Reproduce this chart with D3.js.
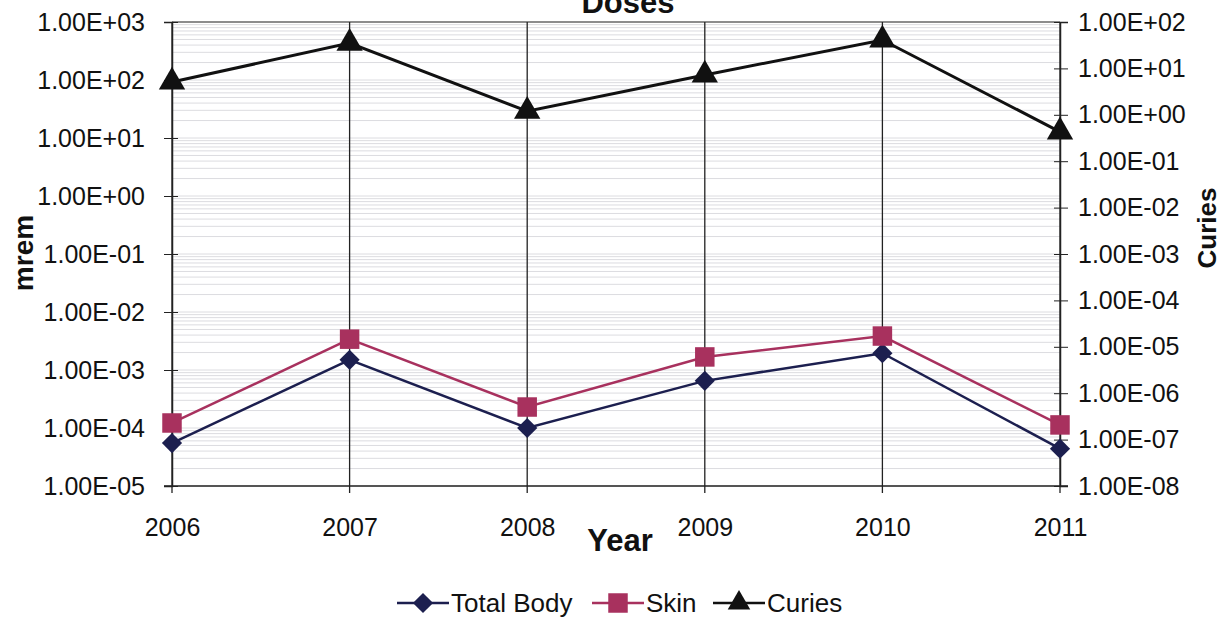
<!DOCTYPE html>
<head>
	<meta charset="utf-8">
	<title>Doses</title>
	<script src="https://cdn.jsdelivr.net/npm/d3@7"></script>
	<style>
		body { margin: 0; background: white; }
		text { font-family: 'Liberation Sans', Arial, sans-serif; fill: #111; }
		.ttl { font-weight: bold; }
	</style>
</head>
<body>
	<script>
		var years = [2006, 2007, 2008, 2009, 2010, 2011];
		var totalBody = [5.5e-5, 1.5e-3, 1.0e-4, 6.5e-4, 1.95e-3, 4.4e-5];
		var skin = [1.22e-4, 3.4e-3, 2.3e-4, 1.68e-3, 3.85e-3, 1.13e-4];
		var curies = [5.1, 35, 1.2, 7.2, 41, 0.43];
		var leftTicks = [1e-5, 1e-4, 1e-3, 1e-2, 1e-1, 1e0, 1e1, 1e2, 1e3];
		var rightTicks = [1e-8, 1e-7, 1e-6, 1e-5, 1e-4, 1e-3, 1e-2, 1e-1, 1e0, 1e1, 1e2];

		var width = 1225, height = 619;
		var L = 172, R = 1060, T = 22, B = 486;

		var svg = d3.select("body").append("svg")
			.attr("width", width)
			.attr("height", height);

		var x = d3.scalePoint().domain(years).range([L, R]);
		var yL = d3.scaleLog().domain([1e-5, 1e3]).range([B, T]);
		var yR = d3.scaleLog().domain([1e-8, 1e2]).range([B, T]);

		function fmt(v) {
			var e = Math.round(Math.log10(v));
			return "1.00E" + (e < 0 ? "-" : "+") + d3.format("02d")(Math.abs(e));
		}

		// faint scan-like horizontal lines
		var minor = [];
		for (var e = -5; e < 3; e++) for (var m = 1; m < 10; m++) minor.push(m * Math.pow(10, e));
		svg.append("g").selectAll("line")
			.data(minor)
			.enter().append("line")
				.attr("x1", L).attr("x2", R)
				.attr("y1", function(d) { return yL(d); })
				.attr("y2", function(d) { return yL(d); })
				.attr("stroke", "#dcdce0")
				.attr("stroke-width", 1);

		// top border
		svg.append("line").attr("x1", L).attr("x2", R).attr("y1", T).attr("y2", T)
			.attr("stroke", "#666").attr("stroke-width", 1.5);

		// vertical year gridlines
		svg.append("g").selectAll("line")
			.data(years)
			.enter().append("line")
				.attr("x1", function(d) { return x(d); })
				.attr("x2", function(d) { return x(d); })
				.attr("y1", T).attr("y2", B + 7)
				.attr("stroke", "#222").attr("stroke-width", 1.3);

		// bottom axis line
		svg.append("line").attr("x1", L - 8).attr("x2", R + 8).attr("y1", B).attr("y2", B)
			.attr("stroke", "#222").attr("stroke-width", 1.5);

		var gl = svg.append("g").attr("transform", "translate(" + L + ",0)")
			.call(d3.axisLeft(yL).tickValues(leftTicks).tickFormat(fmt).tickSize(8).tickPadding(19));
		gl.selectAll(".tick line").attr("x2", -8).attr("x1", 6).attr("stroke", "#222");
		gl.select(".domain").attr("stroke", "#222").attr("stroke-width", 1.5);
		gl.selectAll(".tick text").attr("font-size", 25).attr("font-family", "Liberation Sans, Arial, sans-serif");

		var gr = svg.append("g").attr("transform", "translate(" + R + ",0)")
			.call(d3.axisRight(yR).tickValues(rightTicks).tickFormat(fmt).tickSize(8).tickPadding(10));
		gr.selectAll(".tick line").attr("x1", -6).attr("x2", 8).attr("stroke", "#222");
		gr.select(".domain").attr("stroke", "#222").attr("stroke-width", 1.5);
		gr.selectAll(".tick text").attr("font-size", 25).attr("font-family", "Liberation Sans, Arial, sans-serif");

		var gx = svg.append("g").attr("transform", "translate(0," + B + ")")
			.call(d3.axisBottom(x).tickSize(0).tickPadding(32));
		gx.select(".domain").remove();
		gx.selectAll(".tick text").attr("font-size", 25).attr("font-family", "Liberation Sans, Arial, sans-serif");

		// series
		var lineL = d3.line().x(function(d, i) { return x(years[i]); }).y(function(d) { return yL(d); });
		var lineR = d3.line().x(function(d, i) { return x(years[i]); }).y(function(d) { return yR(d); });

		svg.append("path").attr("d", lineL(totalBody)).attr("fill", "none").attr("stroke", "#1c1f4f").attr("stroke-width", 2.5);
		svg.append("path").attr("d", lineL(skin)).attr("fill", "none").attr("stroke", "#a8315e").attr("stroke-width", 2.5);
		svg.append("path").attr("d", lineR(curies)).attr("fill", "none").attr("stroke", "#111").attr("stroke-width", 3);

		var diamond = d3.symbol().type(d3.symbolDiamond2).size(260);
		var square = d3.symbol().type(d3.symbolSquare).size(380);
		var tri = d3.symbol().type(d3.symbolTriangle).size(300);

		svg.append("g").selectAll("path").data(totalBody).enter().append("path")
			.attr("d", diamond)
			.attr("transform", function(d, i) { return "translate(" + x(years[i]) + "," + yL(d) + ")"; })
			.attr("fill", "#1c1f4f");
		svg.append("g").selectAll("path").data(skin).enter().append("path")
			.attr("d", square)
			.attr("transform", function(d, i) { return "translate(" + x(years[i]) + "," + yL(d) + ")"; })
			.attr("fill", "#a8315e");
		svg.append("g").selectAll("path").data(curies).enter().append("path")
			.attr("d", tri)
			.attr("transform", function(d, i) { return "translate(" + x(years[i]) + "," + yR(d) + ")"; })
			.attr("fill", "#111");

		// titles
		svg.append("text").attr("class", "ttl").attr("font-size", 31).attr("x", 628).attr("y", 13).attr("text-anchor", "middle").text("Doses");
		svg.append("text").attr("class", "ttl").attr("font-size", 31).attr("x", 620).attr("y", 551).attr("text-anchor", "middle").text("Year");
		svg.append("text").attr("class", "ttl").attr("font-size", 28).attr("text-anchor", "middle")
			.attr("transform", "translate(33,253) rotate(-90)").text("mrem");
		svg.append("text").attr("class", "ttl").attr("font-size", 26).attr("text-anchor", "middle")
			.attr("transform", "translate(1216,228) rotate(-90)").text("Curies");

		// legend
		var legend = [
			{name: "Total Body", color: "#1c1f4f", sym: diamond, x: 397},
			{name: "Skin", color: "#a8315e", sym: square, x: 592},
			{name: "Curies", color: "#111", sym: d3.symbol().type(d3.symbolTriangle).size(220), x: 713}
		];
		var lg = svg.append("g").selectAll("g").data(legend).enter().append("g")
			.attr("transform", function(d) { return "translate(" + d.x + ",603)"; });
		lg.append("line").attr("x1", 0).attr("x2", 52).attr("stroke", function(d) { return d.color; }).attr("stroke-width", 2.5);
		lg.append("path").attr("d", function(d) { return d.sym(); }).attr("transform", "translate(26,0)")
			.attr("fill", function(d) { return d.color; });
		lg.append("text").attr("font-size", 26).attr("x", 54).attr("y", 9).text(function(d) { return d.name; });
	</script>
</body>
